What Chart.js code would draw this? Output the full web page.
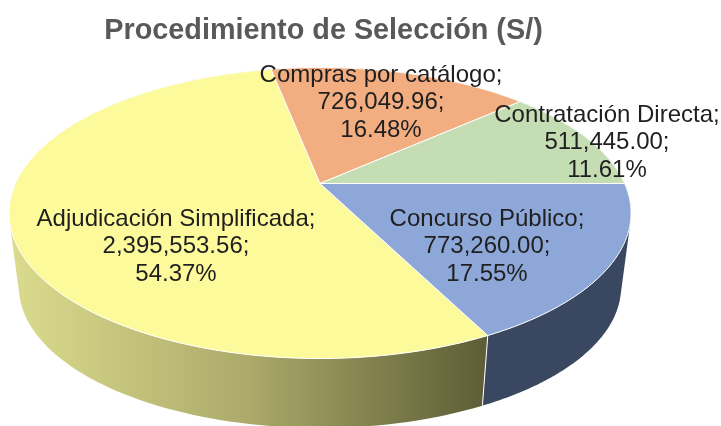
<!DOCTYPE html>
<html>
<head>
<meta charset="utf-8">
<style>
  html, body { margin: 0; padding: 0; background: #fff; }
  #wrap { width: 721px; height: 426px; overflow: hidden; }
  canvas { filter: blur(0.45px); }
</style>
<script src="https://cdn.jsdelivr.net/npm/chart.js@4"></script>
</head>
<body>
<div id="wrap"><canvas id="pieChart"></canvas></div>
<script>
// data
const categories = ['Adjudicación Simplificada', 'Compras por catálogo', 'Contratación Directa', 'Concurso Público'];
const amounts = [2395553.56, 726049.96, 511445.00, 773260.00];
const chartTitle = 'Procedimiento de Selección (S/)';

// colours, same order as categories
const topColors = ['#FCFA9B', '#F2AE80', '#C5DDB2', '#8DA7D8'];
const wallColors = ['#A9A868', '#A9744F', '#82977A', '#3A4760'];

// where each label block is centred (x, y of first line), placed by hand
const labelSpots = [[176, 219], [381, 75], [607, 115], [487, 219]];
const labelLineHeight = 27.6;

// perspective of the pie, in units of the chart radius
const tilt = { sx: 2.625, sy: 1.2026, k: 0.2028, shiftX: -3.5 };
const wall = { scale: 0.968, drop: 0.647 };

// circle angle -> point on the tilted top (or bottom) face
function project(el, angle, bottom) {
    const r = el.outerRadius;
    const x = Math.cos(angle);
    const y = Math.sin(angle);
    const w = 1 - tilt.k * y;
    const s = bottom ? wall.scale : 1;
    return {
        x: el.x + tilt.shiftX + s * r * tilt.sx * x / w,
        y: el.y + (bottom ? wall.drop * r : 0) + s * r * tilt.sy * y / w
    };
}

function rimPoints(el, bottom) {
    const steps = 120;
    const pts = [];
    for (let i = 0; i <= steps; i++) {
        const a = el.startAngle + (el.endAngle - el.startAngle) * i / steps;
        pts.push(project(el, a, bottom));
    }
    return pts;
}

// adds a quad to the current path, always wound the same way
function addQuad(ctx, quad) {
    let area = 0;
    quad.forEach((p, i) => {
        const q = quad[(i + 1) % 4];
        area += p.x * q.y - q.x * p.y;
    });
    const pts = area < 0 ? quad.slice().reverse() : quad;
    pts.forEach((p, i) => i ? ctx.lineTo(p.x, p.y) : ctx.moveTo(p.x, p.y));
    ctx.closePath();
}

const pie3d = {
    id: 'pie3d',
    // replaces the flat arcs, angles still come from the pie controller
    beforeDatasetDraw(chart, args) {
        const ctx = chart.ctx;
        const arcs = args.meta.data;
        ctx.save();
        ctx.lineJoin = 'round';

        arcs.forEach((el, i) => {
            const top = rimPoints(el, false);
            const low = rimPoints(el, true);
            let paint = wallColors[i];
            if (i === 0) {
                paint = ctx.createLinearGradient(12, 0, 485, 0);
                paint.addColorStop(0, '#DBDB8E');
                paint.addColorStop(0.5, '#ABAA6A');
                paint.addColorStop(1, '#5E5D36');
            }
            // small quads in one path so no seams show between them
            ctx.beginPath();
            for (let n = 0; n < top.length - 1; n++) {
                addQuad(ctx, [top[n], top[n + 1], low[n + 1], low[n]]);
            }
            ctx.fillStyle = paint;
            ctx.fill();
        });

        // white seam where the front slices meet on the wall
        arcs.forEach(el => {
            const a = project(el, el.startAngle, false);
            const b = project(el, el.startAngle, true);
            if (Math.sin(el.startAngle) > 0.5) {
                ctx.beginPath();
                ctx.moveTo(a.x, a.y);
                ctx.lineTo(b.x, b.y);
                ctx.strokeStyle = '#fff';
                ctx.lineWidth = 1;
                ctx.stroke();
            }
        });

        arcs.forEach((el, i) => {
            const apex = { x: el.x + tilt.shiftX, y: el.y };
            ctx.beginPath();
            ctx.moveTo(apex.x, apex.y);
            rimPoints(el, false).forEach(p => ctx.lineTo(p.x, p.y));
            ctx.closePath();
            ctx.fillStyle = topColors[i];
            ctx.fill();
            ctx.strokeStyle = '#fff';
            ctx.lineWidth = 1;
            ctx.stroke();
        });
        ctx.restore();
        return false;
    },
    afterDatasetsDraw(chart) {
        const ctx = chart.ctx;
        const total = amounts.reduce((a, b) => a + b, 0);
        ctx.save();
        ctx.font = '24px "Liberation Sans", Arial, sans-serif';
        ctx.fillStyle = '#1F1F1F';
        ctx.textAlign = 'center';
        ctx.textBaseline = 'middle';
        categories.forEach((name, i) => {
            const value = amounts[i].toLocaleString('en-US', { minimumFractionDigits: 2, maximumFractionDigits: 2 });
            const pct = (amounts[i] / total * 100).toFixed(2) + '%';
            const [x, y] = labelSpots[i];
            [name + ';', value + ';', pct].forEach((line, n) => {
                ctx.fillText(line, x, y + n * labelLineHeight);
            });
        });
        ctx.restore();
    }
};

new Chart(document.getElementById('pieChart').getContext('2d'), {
    type: 'pie',
    data: {
        labels: categories,
        datasets: [{
            data: amounts,
            backgroundColor: topColors,
            borderColor: '#fff',
            borderWidth: 1
        }]
    },
    options: {
        responsive: true,
        maintainAspectRatio: false,
        animation: false,
        rotation: 153.18,
        layout: {
            padding: { left: 0, right: 74, top: 0, bottom: 126 }
        },
        plugins: {
            legend: { display: false },
            tooltip: { enabled: false },
            title: {
                display: true,
                text: chartTitle,
                color: '#595959',
                font: { family: '"Liberation Sans", Arial, sans-serif', size: 28.8, weight: 'bold' },
                padding: { top: 14, bottom: 18.4 }
            }
        }
    },
    plugins: [pie3d]
});
</script>
</body>
</html>
